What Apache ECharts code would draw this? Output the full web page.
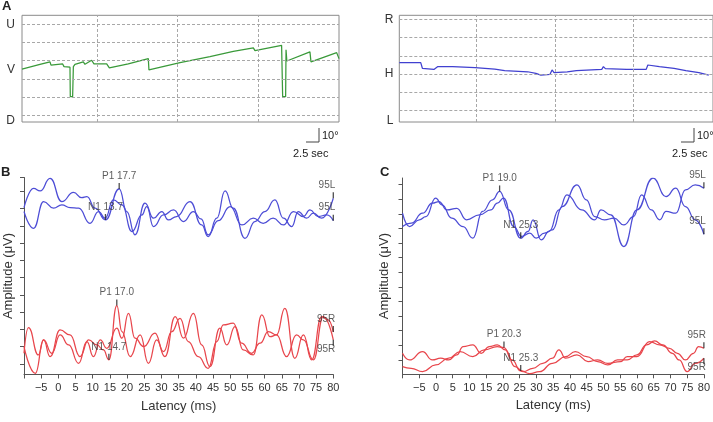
<!DOCTYPE html>
<html>
<head>
<meta charset="utf-8">
<script src="https://cdn.jsdelivr.net/npm/echarts@6.0.0/dist/echarts.min.js"></script>
<style>
  html, body { margin: 0; padding: 0; background: #fff; }
  #chart { width: 713px; height: 422px; }
</style>
</head>
<body>
<div id="chart"></div>
<script>
  // panel A: eye position (seconds, grid-line units)
  const vertTrace = [[0, 2.53], [2.23, 2.80], [3.48, 2.93], [3.6, 2.75], [5.05, 2.82], [5.22, 2.67], [5.96, 2.64], [6.0, 1.02], [6.29, 1.02], [6.38, 2.67], [6.58, 2.80], [7.62, 2.93], [7.82, 2.80], [8.65, 3.02], [8.94, 2.82], [10.52, 2.82], [10.85, 2.6], [13.2, 2.82], [15.69, 3.11], [15.77, 2.49], [19.63, 2.89], [23.35, 3.22], [23.56, 3.15], [26.25, 3.51], [28.74, 3.70], [28.94, 3.55], [32.25, 3.84], [32.34, 3.81], [32.38, 1.02], [32.75, 1.02], [32.8, 3.6], [32.9, 2.98], [33.0, 3.04], [35.77, 3.48], [35.9, 2.93], [39.09, 3.44], [39.38, 3.11]]
  const horizTrace = [[0, 2.63], [2.73, 2.63], [2.94, 2.32], [4.41, 2.26], [4.62, 2.19], [4.87, 2.41], [5.04, 2.32], [6.8, 2.41], [7.05, 2.35], [9.65, 2.35], [12.16, 2.28], [13.42, 2.19], [16.36, 2.13], [17.4, 2.04], [18.03, 1.95], [19.2, 1.99], [19.46, 2.23], [19.71, 2.08], [21.39, 2.13], [22.56, 2.19], [22.73, 2.28], [25.79, 2.26], [26.0, 2.41], [26.25, 2.3], [28.94, 2.26], [31.45, 2.26], [31.66, 2.5], [33.13, 2.41], [35.0, 2.32], [36.5, 2.19], [38.16, 2.08], [39.42, 1.95]]
  const levelLines = [0, 1, 2, 3, 4, 5]
  const vertSecLines = [9.35, 19.32, 29.32]
  const horizSecLines = [9.86, 19.84, 29.86]
  const vertLabelVals = [5, 2.5, -0.3]
  const vertLabelText = ['U', 'V', 'D']
  const horizLabelVals = [5, 2, -0.55]
  const horizLabelText = ['R', 'H', 'L']

  // panels B and C: latency (ms), amplitude (tick units)
  const bBlue1 = [[-10, 9.06], [-7.2, 10.17], [-5.3, 10.02], [-2.4, 10.75], [1.0, 9.40], [4.4, 9.94], [6.8, 9.63], [8.3, 9.69], [10.7, 9.02], [13.7, 8.34], [17.7, 10.14], [19.9, 8.83], [22.3, 7.48], [25.2, 9.31], [27.7, 8.44], [30.1, 8.83], [32.0, 8.34], [34.4, 8.54], [38.3, 9.40], [41.7, 8.05], [43.6, 7.38], [46.1, 8.44], [48.5, 10.02], [50.9, 9.02], [54.3, 7.28], [57.2, 8.25], [60.1, 8.83], [63.0, 9.50], [65.5, 8.44], [67.9, 7.96], [69.8, 8.83], [72.2, 8.44], [74.2, 8.73], [76.6, 8.44], [80, 9.6]]
  const bBlue2 = [[-10, 8.83], [-7.2, 7.86], [-4.3, 9.40], [-1.4, 9.02], [1.0, 9.21], [3.4, 9.06], [5.9, 9.02], [9.2, 8.15], [11.7, 8.83], [13.6, 8.44], [16.0, 9.50], [18.5, 9.21], [21.4, 7.67], [24.3, 8.63], [25.7, 9.12], [27.7, 7.96], [30.6, 8.63], [33.5, 8.92], [36.4, 8.25], [39.3, 8.83], [41.5, 8.4], [43.6, 7.48], [46.5, 8.3], [50.0, 9.11], [53.4, 8.05], [56.7, 8.44], [59.6, 8.15], [62.5, 8.44], [65.5, 8.05], [68.4, 8.83], [71.3, 8.54], [73.2, 8.92], [75.6, 8.54], [78.1, 8.63], [80, 8.3]]
  const bRed1 = [[-10, 0.62], [-8.7, 2.1], [-5.8, 0.52], [-4.3, 1.39], [-2.4, 0.43], [0.5, 1.97], [3.4, 1.68], [6.3, 0.43], [8.8, 1.39], [11.2, 1.1], [13.1, 0.81], [14.7, 0.24], [17.0, 3.38], [18.5, 1.87], [20.9, 0.43], [23.8, 1.68], [26.2, 0.04], [28.6, 1.39], [31.0, 0.43], [34.0, 2.74], [36.4, 1.49], [39.3, 2.93], [41.7, 1.1], [44.1, -0.15], [47.0, 2.07], [49.0, 1.1], [51.4, 2.16], [53.8, 0.81], [56.7, 0.52], [59.2, 2.84], [61.6, 1.58], [63.5, 1.68], [65.9, 3.22], [68.8, 0.33], [71.3, 1.68], [73.7, 0.24], [76.6, 2.74], [78.5, 2.55], [80, 1.85]]
  const bRed2 = [[-10, 1.0], [-6.7, -0.54], [-4.3, 1.39], [-1.9, 0.62], [0.5, 1.68], [3.0, 1.1], [5.9, 0.04], [8.3, 1.3], [10.2, 0.43], [12.2, 1.39], [14.1, 0.91], [17.0, 2.07], [18.5, 1.49], [20.4, 2.93], [22.3, 1.49], [24.8, 1.01], [28.1, 1.78], [30.6, 0.72], [33.0, 1.87], [35.4, 2.64], [37.8, 1.3], [40.7, 0.43], [43.6, -0.25], [46.1, 1.3], [48.0, 2.26], [50.9, 2.36], [53.3, 1.2], [56.2, 0.62], [58.7, 1.2], [61.1, 1.87], [63.5, 1.68], [66.4, 0.43], [69.3, 1.68], [71.3, 1.39], [74.2, 0.24], [77.1, 2.74], [80, 1.4]]
  const cBlue1 = [[-10, 10.04], [-7.9, 9.13], [-5.0, 9.59], [-3.0, 9.81], [-0.1, 11.07], [1.8, 10.61], [4.7, 9.70], [8.1, 9.13], [11.0, 8.33], [13.9, 10.16], [16.9, 10.96], [19.0, 11.53], [21.7, 10.27], [25.3, 8.33], [27.5, 8.79], [29.0, 9.59], [31.4, 8.22], [33.8, 8.79], [36.7, 10.27], [39.1, 11.30], [43.5, 10.27], [47.4, 9.59], [49.3, 10.27], [52.2, 9.93], [56.1, 7.76], [60.0, 10.27], [64.8, 12.44], [68.7, 11.18], [71.6, 11.75], [74.5, 10.5], [77.4, 9.59], [80, 8.6]]
  const cBlue2 = [[-10, 9.13], [-7.4, 9.36], [-4.0, 10.04], [-1.1, 10.73], [0.9, 10.84], [3.3, 10.27], [6.2, 10.38], [9.1, 9.59], [13.0, 9.93], [16.4, 10.27], [18.3, 10.73], [20.2, 11.07], [23.2, 9.13], [25.6, 8.45], [28.0, 8.68], [29.9, 8.33], [32.4, 8.68], [34.8, 8.9], [37.7, 10.5], [42.1, 11.98], [44.9, 10.96], [47.4, 9.81], [50.3, 9.59], [53.2, 9.70], [56.1, 9.24], [59.0, 9.81], [61.4, 11.30], [64.3, 10.27], [66.8, 9.59], [68.7, 10.16], [71.6, 10.04], [74.5, 11.64], [77.4, 11.98], [80, 11.75]]
  const cRed1 = [[-10, -0.45], [-7.4, -0.57], [-4.0, -0.8], [-0.1, -0.34], [3.8, 0.12], [7.2, 0.57], [11.0, 0.23], [14.4, 0.69], [18.3, 0.92], [20.3, 0.85], [22.7, 0.0], [25.3, -0.75], [28.0, -0.93], [30.9, -0.8], [34.8, -0.23], [38.7, 0.23], [41.6, 0.57], [45.0, 0.23], [48.3, -0.11], [51.3, -0.34], [54.2, 0.0], [57.1, 0.0], [60.0, 0.35], [62.9, 1.03], [65.3, 1.3], [67.7, 1.03], [70.6, 0.46], [72.6, 0.0], [75.0, -0.8], [77.4, -0.23], [80, 0.12]]
  const cRed2 = [[-10, 0.46], [-7.9, 0.0], [-4.0, 0.57], [-1.1, 0.0], [1.4, 0.12], [3.8, 0.0], [6.2, 0.35], [8.1, 0.92], [11.0, 1.03], [13.5, 0.46], [15.9, 0.92], [18.3, 1.03], [20.7, 0.69], [23.6, -0.45], [26.1, -0.8], [28.9, -0.57], [31.9, -0.23], [34.8, 0.12], [36.7, 0.69], [38.7, 0.12], [42.1, 0.35], [45.4, -0.11], [48.3, 0.0], [51.3, -0.23], [55.1, -0.11], [57.1, 0.23], [60.0, 0.23], [63.8, 1.26], [66.8, 1.03], [69.7, 0.8], [72.1, 0.46], [74.5, 0.0], [76.9, 0.46], [78.4, 0.92], [80, 0.8]]

  // peak markers: [ms, amplitude, text]
  const bBlueMarks = [[17.7, 10.14, 'P1 17.7'], [13.7, 8.34, 'N1 13.7'], [80, 9.6, '95L'], [80, 8.3, '95L']]
  const bRedMarks = [[17.0, 3.38, 'P1 17.0'], [14.7, 0.24, 'N1 14.7'], [80, 1.85, '95R'], [80, 1.4, '95R']]
  const cBlueMarks = [[19.0, 11.53, 'P1 19.0'], [25.3, 8.33, 'N1 25.3'], [80, 11.75, '95L'], [80, 8.6, '95L']]
  const cRedMarks = [[20.3, 0.85, 'P1 20.3'], [25.3, -0.75, 'N1 25.3'], [80, 0.8, '95R'], [80, 0.12, '95R']]
  const bTicks = [0, 1, 2, 3, 4, 5, 6, 7, 8, 9, 10, 10.8]
  const cTicks = [0, 1, 2, 3, 4, 5, 6, 7, 8, 9, 10, 11, 12]

  const FONT = 'Liberation Sans, Arial, sans-serif'
  const BLUE = '#4d4dd6'
  const RED = '#e8464c'
  const GREEN = '#3a9a3a'

  const chart = echarts.init(document.getElementById('chart'))

  const trace = (data, color, idx, smooth) => ({
    type: 'line', data, xAxisIndex: idx, yAxisIndex: idx, showSymbol: false, smooth,
    smoothMonotone: smooth ? 'x' : undefined,
    silent: true, z: 3, lineStyle: { color, width: 1.25 }
  })

  const gridLines = (idx, secs) => ({
    type: 'line', data: [], xAxisIndex: idx, yAxisIndex: idx, z: 1,
    markLine: {
      silent: true, symbol: 'none', animation: false,
      label: { show: false },
      lineStyle: { type: [3, 2], color: '#a8a8a8', width: 1 },
      data: levelLines.map(v => ({ yAxis: v })).concat(secs.map(v => ({ xAxis: v })))
    }
  })

  // last entry of each marks list sits with its label under the trace
  const marks = (list, idx, lastBelow) => ({
    type: 'scatter', xAxisIndex: idx, yAxisIndex: idx, silent: true, z: 5,
    symbol: 'rect', symbolSize: [1.3, 6],
    itemStyle: { color: '#222' },
    data: list.map((m, i) => {
      const below = lastBelow && i === list.length - 1
      return {
        value: [m[0], m[1]], name: m[2],
        symbolOffset: [0, below ? 3 : -3],
        label: {
          show: true, formatter: m[2], position: below ? 'bottom' : 'top', distance: 2,
          align: m[0] === 80 ? 'right' : 'center', offset: [m[0] === 80 ? 2 : 0, below ? -4 : 0],
          fontSize: 10, color: '#333', fontFamily: FONT
        }
      }
    })
  })

  const eyeX = (max) => ({
    type: 'value', min: 0, max, axisLine: { show: false }, axisTick: { show: false },
    axisLabel: { show: false }, splitLine: { show: false }
  })
  const eyeY = (min, max, vals, text, margin) => ({
    type: 'value', min, max, axisLine: { show: false }, axisTick: { show: false },
    splitLine: { show: false },
    axisLabel: {
      customValues: vals, formatter: v => text[vals.indexOf(v)],
      fontSize: 12, color: '#333', margin, fontFamily: FONT
    }
  })
  const latX = () => ({
    type: 'value', min: -10, max: 80, interval: 5, splitLine: { show: false },
    axisLine: { onZero: false, lineStyle: { color: '#555' } },
    axisTick: { length: 4, lineStyle: { color: '#555' } },
    axisLabel: {
      fontSize: 11, color: '#333', margin: 8, fontFamily: FONT,
      formatter: v => v === -10 ? '' : (v < 0 ? '\u2212' + (-v) : String(v))
    },
    name: 'Latency (ms)', nameLocation: 'middle', nameGap: 25,
    nameTextStyle: { fontSize: 13, color: '#333', fontFamily: FONT }
  })
  const ampY = (min, max, ticks, gap) => ({
    type: 'value', min, max, splitLine: { show: false },
    axisLine: { onZero: false, lineStyle: { color: '#555' } },
    axisTick: { customValues: ticks, length: 4, lineStyle: { color: '#555' } },
    axisLabel: { show: false },
    name: 'Amplitude (\u03bcV)', nameLocation: 'middle', nameRotate: 90, nameGap: gap,
    nameTextStyle: { fontSize: 13, color: '#333', fontFamily: FONT }
  })

  const txt = (text, x, y, size, bold) => ({
    type: 'text', x, y,
    style: { text, font: (bold ? 'bold ' : '') + size + 'px ' + FONT, fill: '#222' }
  })
  const scaleBar = (x, y) => ({
    type: 'polyline', shape: { points: [[x - 13, y], [x, y], [x, y - 14]] },
    style: { stroke: '#444', lineWidth: 1, fill: null }
  })

  chart.setOption({
    animation: false,
    textStyle: { fontFamily: FONT },
    grid: [
      { left: 22, top: 15.3, width: 317, height: 106.7, show: true, borderColor: '#8a8a8a', borderWidth: 1 },
      { left: 399.3, top: 15.3, width: 317.7, height: 106.7, show: true, borderColor: '#8a8a8a', borderWidth: 1 },
      { left: 24, top: 177.5, width: 309.3, height: 197 },
      { left: 402.5, top: 178, width: 309.2, height: 196.3 }
    ],
    xAxis: [eyeX(39.38), eyeX(39.96), latX(), latX()].map((a, i) => Object.assign(a, { gridIndex: i })),
    yAxis: [
      eyeY(-0.37, 5.49, vertLabelVals, vertLabelText, 7),
      eyeY(-0.62, 5.22, horizLabelVals, horizLabelText, 6),
      ampY(-0.61, 10.8, bTicks, 9),
      ampY(-0.98, 12.45, cTicks, 12)
    ].map((a, i) => Object.assign(a, { gridIndex: i })),
    series: [
      gridLines(0, vertSecLines),
      gridLines(1, horizSecLines),
      trace(vertTrace, GREEN, 0, false),
      trace(horizTrace, '#4040d0', 1, false),
      trace(bBlue1, BLUE, 2, 0.5),
      trace(bBlue2, BLUE, 2, 0.5),
      trace(bRed1, RED, 2, 0.5),
      trace(bRed2, RED, 2, 0.5),
      trace(cBlue1, BLUE, 3, 0.5),
      trace(cBlue2, BLUE, 3, 0.5),
      trace(cRed1, RED, 3, 0.5),
      trace(cRed2, RED, 3, 0.5),
      marks(bBlueMarks, 2, false),
      marks(bRedMarks, 2, true),
      marks(cBlueMarks, 3, false),
      marks(cRedMarks, 3, true)
    ],
    graphic: [
      txt('A', 2, 0, 13, true),
      txt('B', 1, 166, 13, true),
      txt('C', 380, 166, 13, true),
      scaleBar(319, 142),
      txt('10\u00b0', 322, 130, 11),
      txt('2.5 sec', 293, 148, 11),
      scaleBar(694, 142),
      txt('10\u00b0', 697, 130, 11),
      txt('2.5 sec', 672, 148, 11)
    ]
  })
</script>
</body>
</html>
